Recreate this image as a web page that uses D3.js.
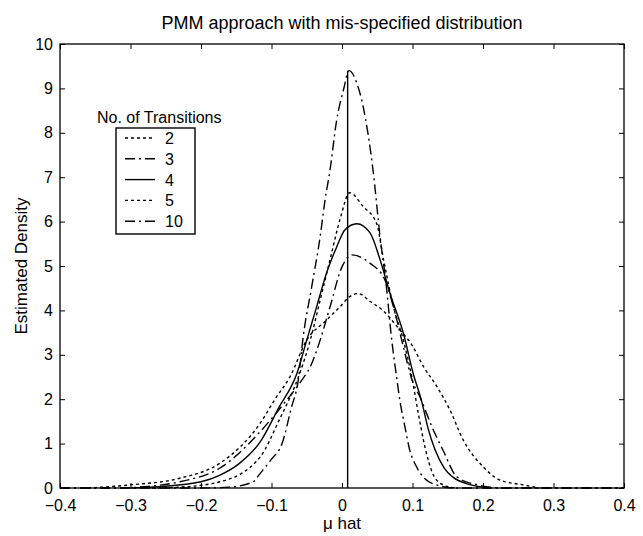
<!DOCTYPE html>
<html>
<head>
<meta charset="utf-8">
<script src="https://cdn.jsdelivr.net/npm/d3@7"></script>
<style>
  body { margin: 0; background: #fff; }
  svg { font-family: "Liberation Sans", Arial, sans-serif; }
  .curve { fill: none; stroke: #000; stroke-width: 1.4; }
</style>
</head>
<body>
<svg id="chart" width="643" height="536"></svg>
<script>
// Tick values
const xTicks = [-0.4, -0.3, -0.2, -0.1, 0, 0.1, 0.2, 0.3, 0.4];
const yTicks = [0, 1, 2, 3, 4, 5, 6, 7, 8, 9, 10];

// Legend entries (No. of Transitions)
const transitions = ['2', '3', '4', '5', '10'];

// Estimated density curves
const mu2 = [-0.36, -0.30, -0.23, -0.173, -0.116, -0.095, -0.074, -0.050, -0.022, -0.003, 0.011, 0.023, 0.040, 0.058, 0.080, 0.100, 0.115, 0.134, 0.153, 0.172, 0.200, 0.224, 0.257, 0.28];
const dens2 = [0, 0.07, 0.22, 0.56, 1.46, 2.0, 2.5, 3.33, 3.78, 4.08, 4.31, 4.38, 4.2, 4.0, 3.6, 3.2, 2.75, 2.3, 1.76, 1.08, 0.48, 0.18, 0.07, 0];

const mu3 = [-0.40, -0.32, -0.28, -0.23, -0.173, -0.116, -0.085, -0.057, -0.045, -0.031, -0.017, 0, 0.014, 0.040, 0.061, 0.073, 0.087, 0.099, 0.112, 0.127, 0.143, 0.163, 0.19, 0.23, 0.40];
const dens3 = [0, 0, 0.03, 0.14, 0.45, 1.27, 1.85, 2.43, 2.73, 3.33, 4.08, 4.98, 5.25, 5.06, 4.68, 4.08, 3.18, 2.45, 2.0, 1.4, 0.86, 0.25, 0.08, 0, 0];

const mu4 = [-0.30, -0.26, -0.20, -0.173, -0.145, -0.116, -0.090, -0.064, -0.050, -0.036, -0.022, -0.0075, 0.004, 0.021, 0.040, 0.054, 0.068, 0.087, 0.101, 0.113, 0.122, 0.132, 0.145, 0.157, 0.18, 0.21];
const dens4 = [0, 0.03, 0.14, 0.29, 0.56, 1.04, 1.8, 2.58, 3.33, 4.08, 4.84, 5.43, 5.81, 5.95, 5.74, 5.14, 4.39, 3.49, 2.58, 1.95, 1.35, 0.86, 0.45, 0.25, 0.08, 0];

const mu5 = [-0.27, -0.23, -0.173, -0.116, -0.090, -0.060, -0.045, -0.031, -0.017, -0.003, 0.011, 0.030, 0.049, 0.059, 0.073, 0.087, 0.099, 0.108, 0.118, 0.128, 0.14, 0.16];
const dens5 = [0, 0.02, 0.14, 0.70, 1.5, 2.58, 3.33, 4.23, 5.14, 6.04, 6.65, 6.34, 5.96, 5.14, 4.08, 3.33, 2.5, 1.7, 0.9, 0.35, 0.1, 0];

const mu10 = [-0.40, -0.20, -0.16, -0.126, -0.116, -0.100, -0.085, -0.072, -0.062, -0.055, -0.043, -0.031, -0.024, -0.017, -0.0075, 0.002, 0.010, 0.021, 0.030, 0.044, 0.054, 0.063, 0.070, 0.078, 0.082, 0.089, 0.096, 0.105, 0.115, 0.134, 0.16, 0.40];
const dens10 = [0, 0, 0.02, 0.14, 0.33, 0.65, 1.0, 1.8, 2.43, 3.41, 4.53, 5.66, 6.49, 7.16, 8.29, 8.96, 9.4, 9.12, 8.59, 7.16, 5.66, 4.53, 3.41, 2.43, 1.98, 1.4, 0.86, 0.5, 0.25, 0.07, 0, 0];

// True value marker (vertical line)
const trueMu = 0.008;
const trueTop = 9.4;

const dotted = '3,3';
const dashDot = '10,4,2,4';
const series = [
  { name: '2', xs: mu2, ys: dens2, dash: dotted },
  { name: '3', xs: mu3, ys: dens3, dash: dashDot },
  { name: '4', xs: mu4, ys: dens4, dash: null },
  { name: '5', xs: mu5, ys: dens5, dash: dotted },
  { name: '10', xs: mu10, ys: dens10, dash: dashDot }
];

const svg = d3.select('#chart');
const margin = { left: 60, right: 19, top: 44, bottom: 48 };
const width = +svg.attr('width');
const height = +svg.attr('height');
const tickFont = 16;

const x = d3.scaleLinear().domain([-0.4, 0.4]).range([margin.left, width - margin.right]);
const y = d3.scaleLinear().domain([0, 10]).range([height - margin.bottom, margin.top]);

const fmt = d => (d === 0 ? '0' : d3.format('.1f')(d));

// Axes: ticks point inward, box on all sides
const axisStyle = g => {
  g.select('.domain').remove();
  g.selectAll('text').attr('font-size', tickFont).attr('fill', '#000');
  g.selectAll('line').attr('stroke', '#000');
};

svg.append('g')
  .attr('transform', `translate(0,${y(0)})`)
  .call(d3.axisBottom(x).tickValues(xTicks).tickFormat(fmt).tickSizeInner(-5).tickPadding(12))
  .call(axisStyle);

svg.append('g')
  .attr('transform', `translate(${x(-0.4)},0)`)
  .call(d3.axisLeft(y).tickValues(yTicks).tickSizeInner(-5).tickPadding(7))
  .call(axisStyle);

svg.append('g')
  .attr('transform', `translate(0,${y(10)})`)
  .call(d3.axisTop(x).tickValues(xTicks).tickFormat('').tickSizeInner(-5))
  .call(axisStyle);

svg.append('g')
  .attr('transform', `translate(${x(0.4)},0)`)
  .call(d3.axisRight(y).tickValues(yTicks).tickFormat('').tickSizeInner(-5))
  .call(axisStyle);

svg.append('rect')
  .attr('x', x(-0.4)).attr('y', y(10))
  .attr('width', x(0.4) - x(-0.4)).attr('height', y(0) - y(10))
  .attr('fill', 'none').attr('stroke', '#000').attr('stroke-width', 1.3);

// Curves
const line = d3.line()
  .x(d => x(d[0]))
  .y(d => y(d[1]))
  .curve(d3.curveMonotoneX);

svg.append('g').selectAll('path')
  .data(series)
  .join('path')
    .attr('class', 'curve')
    .attr('d', s => line(s.xs.map((v, i) => [v, s.ys[i]])))
    .attr('stroke-dasharray', s => s.dash);

svg.append('line')
  .attr('x1', x(trueMu)).attr('x2', x(trueMu))
  .attr('y1', y(0)).attr('y2', y(trueTop))
  .attr('stroke', '#000').attr('stroke-width', 1.4);

// Title and axis labels
svg.append('text')
  .attr('x', x(0)).attr('y', 29)
  .attr('text-anchor', 'middle').attr('font-size', 18)
  .text('PMM approach with mis-specified distribution');

svg.append('text')
  .attr('x', x(0)).attr('y', 529)
  .attr('text-anchor', 'middle').attr('font-size', 17)
  .text('μ hat');

svg.append('text')
  .attr('transform', `translate(27,${(y(0) + y(10)) / 2}) rotate(-90)`)
  .attr('text-anchor', 'middle').attr('font-size', 17)
  .text('Estimated Density');

// Legend
const legend = svg.append('g').attr('transform', 'translate(116,128)');
const rowH = 20.8;

svg.append('text')
  .attr('x', 97).attr('y', 123)
  .attr('font-size', tickFont)
  .text('No. of Transitions');

legend.append('rect')
  .attr('width', 79).attr('height', 106)
  .attr('fill', '#fff').attr('stroke', '#000').attr('stroke-width', 1.4);

const rows = legend.selectAll('g.row')
  .data(series)
  .join('g')
    .attr('class', 'row')
    .attr('transform', (s, i) => `translate(0,${10 + i * rowH})`);

rows.append('line')
  .attr('x1', 9).attr('x2', 39)
  .attr('stroke', '#000').attr('stroke-width', 1.4)
  .attr('stroke-dasharray', s => s.dash);

rows.append('text')
  .attr('x', 49).attr('y', 6)
  .attr('font-size', tickFont)
  .text((s, i) => transitions[i]);
</script>
</body>
</html>
